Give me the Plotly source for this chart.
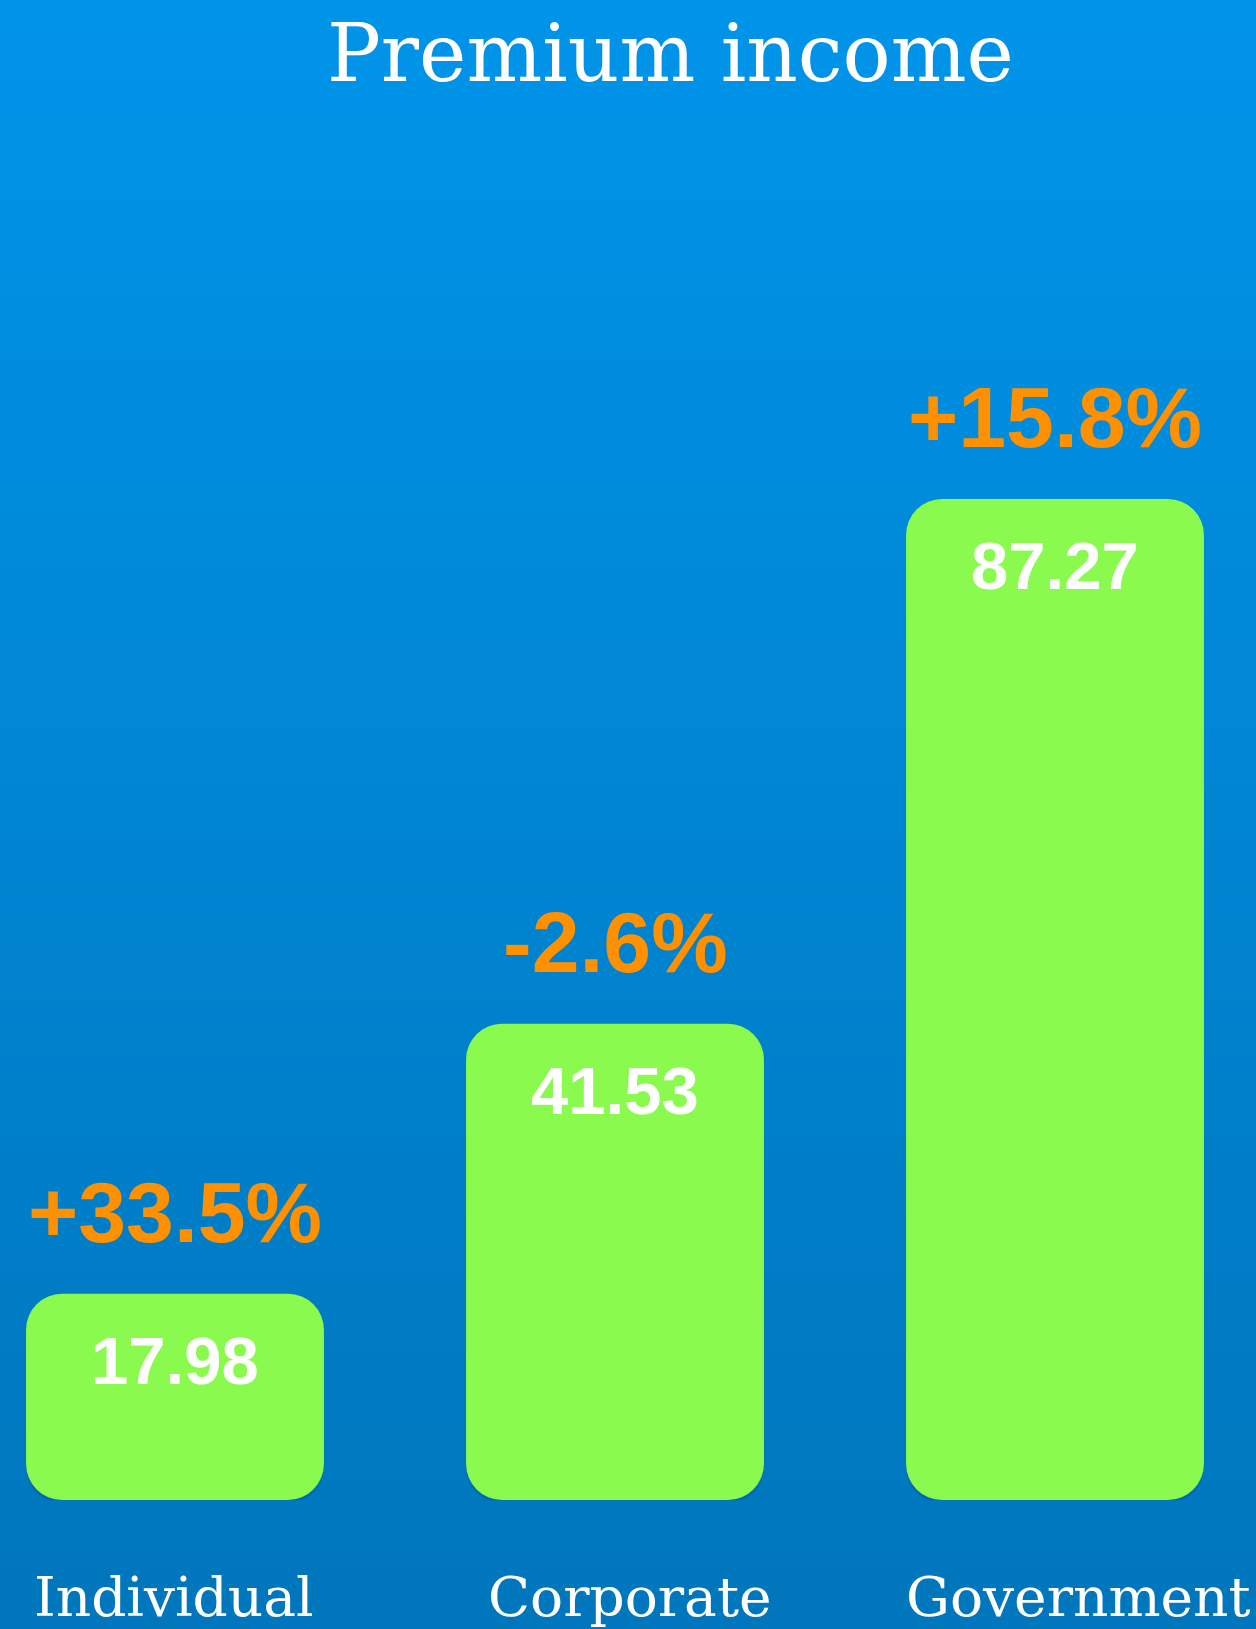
import base64
import struct
import zlib
import plotly.graph_objects as go

# ---------------- data ----------------
categories = ["Individual", "Corporate", "Government"]
values = [17.98, 41.53, 87.27]
value_labels = ["17.98", "41.53", "87.27"]
changes = ["+33.5%", "-2.6%", "+15.8%"]

# ---------------- style ----------------
W, H = 1256, 1629
BAR_COLOR = "#8AFA4F"
ORANGE = "#FF9100"
TOP_BG = (0, 148, 233)
BOTTOM_BG = (0, 118, 188)
label_xshift = [-1, 15, 23]
PX_PER_UNIT = 1001 / 87.27
SHADOW_PX = 3


def gradient_png(top, bottom, h=256, w=4):
    raw = b""
    for i in range(h):
        t = i / (h - 1)
        c = bytes(int(round(top[k] + (bottom[k] - top[k]) * t)) for k in range(3))
        raw += b"\x00" + c * w

    def chunk(tag, data):
        return (struct.pack(">I", len(data)) + tag + data
                + struct.pack(">I", zlib.crc32(tag + data) & 0xFFFFFFFF))

    png = (b"\x89PNG\r\n\x1a\n"
           + chunk(b"IHDR", struct.pack(">IIBBBBB", w, h, 8, 2, 0, 0, 0))
           + chunk(b"IDAT", zlib.compress(raw, 9))
           + chunk(b"IEND", b""))
    return "data:image/png;base64," + base64.b64encode(png).decode()


fig = go.Figure()

# soft drop shadow under each bar (same bars, nudged down a few pixels)
fig.add_trace(go.Bar(
    x=categories,
    y=values,
    base=[-SHADOW_PX / PX_PER_UNIT for _ in values],
    width=0.677,
    marker=dict(color="rgba(0,50,100,0.22)", cornerradius=36, line=dict(width=0)),
    hoverinfo="skip",
))
# explicit base -> plotly treats bars as floating and rounds both ends
fig.add_trace(go.Bar(
    x=categories,
    y=values,
    base=[0 for _ in values],
    width=0.677,
    marker=dict(color=BAR_COLOR, cornerradius=36, line=dict(width=0)),
    hoverinfo="skip",
))

annotations = []
for i, cat in enumerate(categories):
    annotations.append(dict(
        x=cat, y=values[i], xref="x", yref="y",
        text=changes[i], showarrow=False,
        xanchor="center", yanchor="bottom", yshift=32,
        font=dict(family="Liberation Sans, Arial, sans-serif", size=86,
                  color=ORANGE, weight="bold"),
    ))
    annotations.append(dict(
        x=cat, y=values[i], xref="x", yref="y",
        text=value_labels[i], showarrow=False,
        xanchor="center", yanchor="top", yshift=-27,
        font=dict(family="Liberation Sans, Arial, sans-serif", size=67,
                  color="white", weight="bold"),
    ))
    annotations.append(dict(
        x=cat, y=(H - 1563) / H, xref="x", yref="paper",
        text=cat, showarrow=False,
        xanchor="center", yanchor="top", xshift=label_xshift[i],
        font=dict(family="DejaVu Serif, serif", size=55, color="white"),
    ))

annotations.append(dict(
    x=670 / W, y=1 - 5 / H, xref="paper", yref="paper",
    text="Premium income", showarrow=False,
    xanchor="center", yanchor="top",
    font=dict(family="DejaVu Serif, serif", size=80, color="white"),
))

fig.update_layout(
    width=W, height=H,
    margin=dict(l=0, r=0, t=0, b=0),
    paper_bgcolor="rgba(0,0,0,0)",
    plot_bgcolor="rgba(0,0,0,0)",
    barmode="overlay",
    showlegend=False,
    annotations=annotations,
    images=[dict(
        source=gradient_png(TOP_BG, BOTTOM_BG),
        xref="paper", yref="paper", x=0, y=1, sizex=1, sizey=1,
        xanchor="left", yanchor="top", sizing="stretch", layer="below",
    )],
    xaxis=dict(
        range=[-175 / 440, (W - 175) / 440],
        showticklabels=False, showgrid=False, zeroline=False,
        showline=False, ticks="", fixedrange=True,
    ),
    yaxis=dict(
        domain=[129 / H, 1529 / H],
        range=[0, 1400 / PX_PER_UNIT],
        showticklabels=False, showgrid=False, zeroline=False,
        showline=False, ticks="", fixedrange=True,
    ),
)

fig.write_html(
    "out.html",
    config={"displayModeBar": False},
    post_script="document.body.style.margin='0';document.body.style.background='#0076BC';",
)
